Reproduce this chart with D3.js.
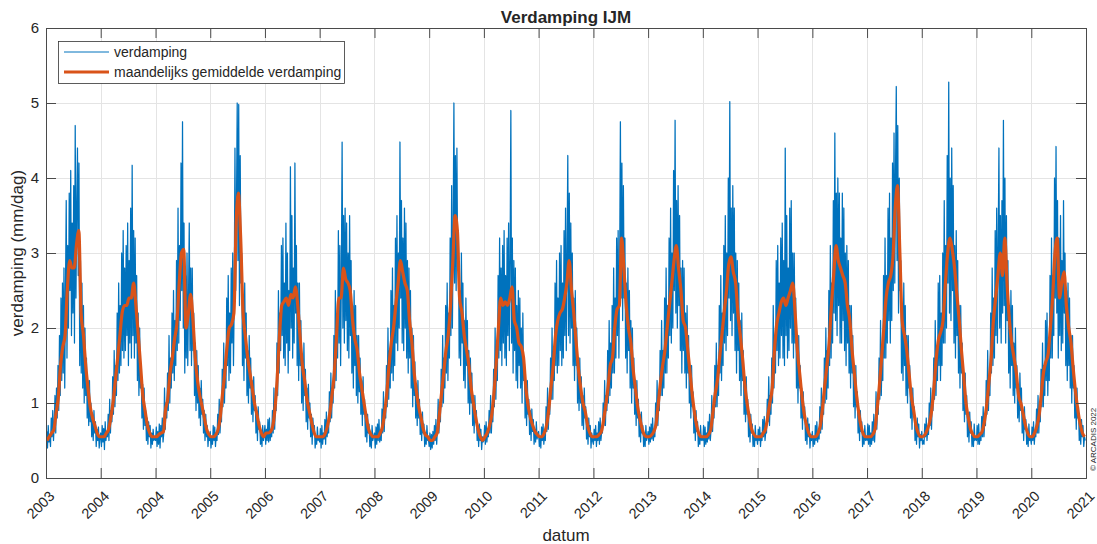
<!DOCTYPE html>
<html><head><meta charset="utf-8">
<script src="https://cdn.jsdelivr.net/npm/d3@7"></script>
<style>
body{margin:0;background:#fff}
text{font-family:"Liberation Sans",Arial,Helvetica,sans-serif;fill:#262626}
</style>
</head><body>
<svg id="chart" width="1097" height="544"></svg>
<script>
// ---------- DATA ----------
const years = [2003,2004,2005,2006,2007,2008,2009,2010,2011,2012,2013,2014,2015,2016,2017,2018,2019,2020,2021];
const xTickLabels = ["2003","2004","2004","2005","2006","2007","2008","2009","2010","2011","2012","2013","2014","2015","2016","2017","2018","2019","2020","2021"];
const yTickValues = [0,1,2,3,4,5,6];

// daily evaporation (mm/dag), one value every 5 days, per year
const verd2003 = [0.45,0.62,0.4,0.7,0.48,0.58,0.42,0.8,0.55,0.9,0.5,0.72,1.1,0.6,1.2,0.8,1.5,0.9,1.9,1.1,2.4,1.3,2.6,1.4,2.8,1.2,2.5,3.7,1.6,3.1,2.0,3.8,2.5,4.1,1.9,3.4,2.2,3.9,1.8,4.7,2.4,3.6,4.4,2.7,4.2,1.5,2.9,1.4,2.6,1.2,2.3,1.0,2.0,1.1,1.6,0.8,1.3,0.7,1.3,0.75,1.0,0.55,0.85,0.5,0.9,0.6,0.75,0.42,0.65,0.5,0.68,0.4,0.55];
const verd2004 = [0.6,0.42,0.7,0.48,0.66,0.38,0.75,0.5,0.62,0.55,0.85,0.5,1.05,0.6,0.9,0.75,1.35,0.85,1.7,0.95,1.5,1.1,2.2,1.3,2.6,1.4,2.3,1.5,3.0,1.7,3.3,1.6,2.8,1.7,3.1,1.9,3.4,1.5,2.9,1.8,3.6,1.6,4.17,1.9,3.3,1.6,3.2,1.8,2.7,1.3,2.2,1.1,2.0,1.2,1.5,0.8,1.25,0.65,1.2,0.7,0.9,0.5,0.8,0.45,0.75,0.55,0.7,0.4,0.6,0.45,0.65,0.5,0.55];
const verd2005 = [0.5,0.68,0.42,0.62,0.45,0.72,0.4,0.7,0.55,0.8,0.48,0.6,1.2,0.65,1.0,0.8,1.4,0.9,1.9,1.0,1.6,1.2,2.2,1.4,2.5,1.3,2.1,1.5,2.9,1.7,3.6,1.8,3.1,2.1,4.2,2.5,4.75,2.0,3.4,1.4,2.7,1.6,3.0,1.5,2.4,3.4,1.7,2.8,1.5,2.8,1.7,2.2,1.1,1.8,0.9,1.7,1.0,1.5,0.8,1.2,0.7,1.3,0.85,1.05,0.6,0.9,0.5,0.85,0.55,0.7,0.42,0.6,0.5];
const verd2006 = [0.62,0.4,0.55,0.45,0.7,0.5,0.68,0.42,0.6,0.5,0.85,0.58,1.05,0.6,0.8,0.75,1.45,0.95,1.8,1.0,1.5,1.2,2.4,1.5,2.7,1.3,2.2,1.4,2.8,1.8,3.0,1.5,2.4,4.4,2.5,3.6,5.0,2.9,4.98,2.3,4.3,2.6,3.0,1.5,2.2,1.3,2.6,1.6,2.2,1.1,1.7,1.0,1.9,1.2,1.6,0.85,1.3,0.75,1.35,0.9,1.1,0.6,0.9,0.5,0.95,0.65,0.75,0.45,0.6,0.42,0.7,0.5,0.58];
const verd2007 = [0.7,0.45,0.65,0.5,0.78,0.48,0.8,0.5,0.62,0.55,0.9,0.6,1.2,0.65,1.0,0.9,1.8,1.1,2.5,1.4,2.2,1.7,3.1,1.9,3.2,1.6,2.6,1.5,3.4,1.8,3.0,1.4,2.5,1.7,4.15,2.0,3.5,1.6,2.8,1.8,4.2,2.2,3.1,1.5,2.6,1.3,2.6,1.5,2.1,1.0,1.6,0.9,1.8,1.1,1.45,0.75,1.2,0.65,1.25,0.8,1.0,0.55,0.85,0.45,0.8,0.6,0.7,0.4,0.55,0.45,0.68,0.5,0.55];
const verd2008 = [0.48,0.66,0.4,0.7,0.45,0.6,0.52,0.78,0.45,0.88,0.55,0.68,0.6,1.15,0.75,1.4,0.8,1.2,1.0,1.9,1.2,2.5,1.3,2.1,1.6,3.3,1.8,3.1,1.5,2.7,4.48,2.0,3.5,1.8,3.6,2.1,3.4,1.7,3.0,1.6,3.5,1.9,2.9,1.4,2.3,1.2,2.5,1.5,2.3,1.1,1.9,1.0,1.9,1.15,1.6,0.85,1.3,0.7,1.35,0.85,1.05,0.55,0.85,0.48,0.85,0.6,0.72,0.42,0.6,0.4,0.7,0.5,0.55];
const verd2009 = [0.6,0.4,0.68,0.45,0.72,0.5,0.78,0.48,0.62,0.5,0.92,0.6,1.15,0.62,0.95,0.8,1.5,0.95,2.0,1.05,1.7,1.2,2.5,1.4,2.8,1.3,2.3,1.5,3.2,1.8,3.5,1.7,3.0,2.0,4.48,2.4,3.7,1.8,3.2,1.7,3.6,2.0,3.4,1.6,2.9,1.4,2.8,1.6,2.5,1.2,2.0,0.95,1.9,1.1,1.55,0.8,1.25,0.7,1.3,0.8,1.05,0.58,0.85,0.5,0.88,0.6,0.72,0.42,0.58,0.45,0.7,0.5,0.52];
const verd2010 = [0.42,0.6,0.38,0.58,0.4,0.62,0.45,0.7,0.5,0.78,0.45,0.65,1.05,0.6,0.9,0.75,1.45,0.95,1.9,1.0,1.6,1.2,2.3,1.4,2.6,1.3,2.2,1.6,3.2,1.9,3.9,2.0,3.3,5.0,2.6,4.3,2.5,4.4,2.8,3.3,1.6,2.5,1.5,3.0,1.8,2.6,1.3,2.1,1.2,2.4,1.5,2.1,1.0,1.7,0.85,1.6,1.0,1.4,0.7,1.1,0.6,1.1,0.75,0.9,0.5,0.7,0.42,0.72,0.5,0.65,0.38,0.55,0.48];
const verd2011 = [0.5,0.7,0.45,0.75,0.48,0.62,0.55,0.9,0.6,1.1,0.6,0.9,0.75,1.45,0.95,2.0,1.05,1.6,1.3,2.7,1.6,3.2,1.7,2.8,1.5,3.1,1.8,3.3,1.6,2.7,1.5,3.2,1.9,3.4,1.7,2.9,4.9,1.8,3.2,1.4,2.9,1.7,2.8,1.3,2.3,1.2,2.5,1.5,2.4,1.2,2.0,1.0,2.2,1.3,1.6,0.8,1.3,0.7,1.3,0.85,1.05,0.58,0.9,0.5,0.92,0.62,0.78,0.45,0.65,0.48,0.75,0.52,0.58];
const verd2012 = [0.62,0.42,0.55,0.4,0.68,0.5,0.72,0.45,0.6,0.5,0.95,0.62,1.2,0.65,0.95,0.85,1.6,1.05,2.0,1.05,1.7,1.3,2.6,1.5,2.9,1.4,2.4,1.5,3.0,1.7,3.1,1.5,2.6,1.6,3.3,1.9,3.6,1.7,3.0,4.3,1.9,3.8,1.8,3.4,2.0,3.0,1.5,2.4,1.3,2.5,1.5,2.0,1.0,1.6,0.9,1.6,1.0,1.35,0.7,1.1,0.65,1.2,0.8,0.95,0.52,0.72,0.45,0.8,0.55,0.7,0.4,0.6,0.5];
const verd2013 = [0.45,0.65,0.5,0.7,0.42,0.6,0.5,0.75,0.45,0.8,0.5,0.62,0.6,1.0,0.7,1.3,0.7,1.1,0.9,1.7,1.0,2.1,1.1,1.8,1.2,2.3,1.4,2.8,1.4,2.4,1.6,3.2,1.9,3.3,1.6,2.8,4.75,2.4,4.2,2.1,3.9,2.4,3.2,1.6,2.6,1.4,2.8,1.7,2.5,1.2,2.1,1.0,2.0,1.2,1.6,0.85,1.3,0.7,1.3,0.8,1.05,0.55,0.85,0.48,0.88,0.6,0.7,0.42,0.58,0.42,0.7,0.5,0.55];
const verd2014 = [0.62,0.45,0.68,0.48,0.72,0.52,0.8,0.5,0.65,0.55,1.0,0.7,1.3,0.7,1.05,0.9,1.7,1.1,2.1,1.1,1.7,1.2,2.4,1.4,2.8,1.4,2.3,1.6,3.2,1.9,3.6,1.8,3.0,2.0,4.1,2.5,4.77,2.2,3.7,2.0,3.9,2.3,3.5,1.7,2.8,1.4,2.9,1.7,2.8,1.4,2.2,1.2,2.3,1.4,1.9,1.0,1.5,0.8,1.5,0.95,1.15,0.6,0.9,0.5,0.9,0.62,0.75,0.42,0.6,0.45,0.7,0.5,0.55];
const verd2015 = [0.5,0.7,0.42,0.68,0.45,0.6,0.48,0.75,0.52,0.85,0.5,0.65,1.1,0.62,0.9,0.8,1.5,0.95,1.8,0.95,1.5,1.1,2.3,1.4,2.7,1.3,2.2,1.5,3.1,1.8,3.5,1.7,3.0,1.9,4.0,2.4,5.02,2.1,3.6,1.9,3.9,2.2,3.6,1.7,3.0,1.4,2.9,1.7,2.6,1.3,2.1,1.1,2.2,1.3,1.7,0.85,1.35,0.75,1.35,0.85,1.05,0.55,0.85,0.48,0.85,0.6,0.72,0.42,0.58,0.42,0.7,0.5,0.55];
const verd2016 = [0.45,0.65,0.5,0.68,0.42,0.6,0.5,0.78,0.55,0.82,0.5,0.62,0.6,1.05,0.75,1.35,0.7,1.1,0.85,1.6,1.0,2.3,1.2,1.9,1.4,2.9,1.7,3.1,1.5,2.6,1.6,3.2,1.9,3.4,1.6,2.9,1.5,4.4,1.9,3.5,1.6,2.8,1.7,3.6,2.0,3.7,1.8,3.0,1.6,3.0,1.8,2.4,1.2,1.9,1.0,1.9,1.2,1.5,0.8,1.2,0.65,1.15,0.8,0.95,0.5,0.72,0.45,0.8,0.55,0.72,0.4,0.58,0.5];
const verd2017 = [0.62,0.42,0.55,0.45,0.7,0.5,0.75,0.48,0.62,0.52,0.95,0.6,1.2,0.65,0.95,0.85,1.6,1.0,2.0,1.05,1.7,1.2,2.5,1.5,3.1,1.6,2.6,1.8,3.7,2.2,4.6,2.1,3.8,1.9,4.0,2.3,3.8,1.8,3.2,1.8,3.8,2.1,3.6,1.7,3.0,1.5,3.1,1.8,2.9,1.4,2.3,1.2,2.3,1.4,1.9,0.95,1.5,0.8,1.5,0.95,1.15,0.6,0.9,0.5,0.9,0.62,0.75,0.42,0.6,0.45,0.7,0.5,0.55];
const verd2018 = [0.5,0.72,0.45,0.7,0.42,0.6,0.45,0.75,0.5,0.85,0.48,0.68,1.15,0.65,0.95,0.85,1.6,1.05,2.1,1.1,1.7,1.3,2.7,1.6,3.2,1.6,2.7,1.8,3.6,2.1,3.8,1.8,3.2,2.1,4.2,2.5,4.6,2.6,4.1,5.22,2.9,4.7,2.2,4.0,2.5,2.9,1.4,2.2,1.3,2.6,1.5,2.3,1.1,1.9,1.0,1.9,1.2,1.5,0.8,1.2,0.65,1.2,0.85,0.95,0.5,0.72,0.45,0.8,0.55,0.72,0.4,0.58,0.5];
const verd2019 = [0.62,0.45,0.5,0.45,0.72,0.55,0.8,0.5,0.68,0.58,1.0,0.7,1.2,0.65,1.0,0.9,1.6,1.05,2.1,1.1,1.7,1.3,2.6,1.5,2.7,1.3,2.2,1.5,3.0,1.8,3.7,1.8,3.1,2.0,4.3,2.6,5.28,2.2,4.0,2.1,4.4,2.5,3.9,1.8,3.1,1.6,3.3,1.9,2.9,1.4,2.3,1.2,2.3,1.4,1.8,0.9,1.4,0.75,1.4,0.85,1.1,0.55,0.85,0.48,0.88,0.6,0.75,0.42,0.6,0.42,0.72,0.5,0.55];
const verd2020 = [0.5,0.7,0.45,0.72,0.45,0.6,0.5,0.82,0.55,0.95,0.55,0.75,0.7,1.3,0.85,1.7,0.9,1.35,1.1,2.2,1.4,2.8,1.5,2.4,1.6,3.3,1.9,3.6,1.8,3.1,4.4,2.0,3.5,1.8,3.7,2.2,4.77,2.3,4.0,1.8,3.5,2.1,2.9,1.4,2.3,1.2,2.5,1.5,2.3,1.1,1.8,1.0,2.0,1.2,1.5,0.8,1.2,0.75,1.4,0.9,1.2,0.6,0.9,0.5,0.95,0.65,0.78,0.45,0.6,0.42,0.72,0.5,0.55];
const verd2021 = [0.45,0.68,0.5,0.75,0.45,0.62,0.55,0.92,0.6,1.1,0.6,0.9,0.75,1.45,0.95,1.8,0.95,1.5,1.1,2.1,1.3,2.2,1.1,1.8,1.3,2.7,1.6,3.2,1.6,2.7,1.9,4.0,2.4,4.42,2.2,3.7,1.6,3.2,1.9,3.5,1.7,2.9,1.8,3.7,2.2,3.0,1.5,2.5,1.3,2.6,1.5,2.4,1.2,1.9,1.0,1.9,1.2,1.5,0.8,1.2,0.65,1.2,0.8,0.95,0.5,0.72,0.45,0.78,0.55,0.7,0.42,0.55,0.5];

// monthly averaged evaporation (mm/dag), two values per month, per year
const gem2003 = [0.5,0.55,0.6,0.65,0.85,1.05,1.5,1.75,1.9,2.5,2.9,2.8,2.8,3.1,3.3,2.2,1.9,1.5,1.2,0.95,0.8,0.7,0.6,0.55];
const gem2004 = [0.55,0.55,0.6,0.65,0.8,1.0,1.3,1.6,1.9,2.2,2.3,2.3,2.4,2.4,2.6,2.3,1.9,1.5,1.1,0.9,0.7,0.6,0.55,0.55];
const gem2005 = [0.55,0.58,0.6,0.62,0.9,1.05,1.4,1.6,1.85,2.05,2.6,3.0,3.05,2.0,2.2,2.45,2.1,1.6,1.3,1.1,0.95,0.8,0.65,0.58];
const gem2006 = [0.55,0.55,0.58,0.65,0.8,1.1,1.4,1.75,2.0,2.05,2.2,3.4,3.8,3.2,2.2,1.9,1.6,1.4,1.2,1.0,0.85,0.7,0.6,0.55];
const gem2007 = [0.6,0.6,0.62,0.7,0.9,1.3,1.9,2.3,2.35,2.4,2.3,2.45,2.4,2.55,2.3,1.9,1.5,1.3,1.05,0.9,0.75,0.62,0.55,0.55];
const gem2008 = [0.55,0.55,0.6,0.7,0.85,1.1,1.4,1.9,2.4,2.4,2.8,2.65,2.6,2.5,2.1,1.85,1.7,1.4,1.2,1.0,0.8,0.65,0.58,0.55];
const gem2009 = [0.55,0.55,0.6,0.68,0.85,1.1,1.5,1.8,2.0,2.3,2.6,2.9,2.75,2.6,2.5,2.1,1.8,1.4,1.15,0.95,0.8,0.65,0.57,0.55];
const gem2010 = [0.5,0.5,0.55,0.6,0.8,1.1,1.4,1.7,1.9,2.3,2.9,3.5,3.3,2.4,2.2,1.9,1.7,1.5,1.2,1.0,0.8,0.65,0.55,0.5];
const gem2011 = [0.55,0.6,0.7,0.85,1.1,1.5,2.0,2.4,2.3,2.35,2.3,2.4,2.55,2.1,2.0,1.8,1.75,1.6,1.2,0.97,0.8,0.7,0.62,0.58];
const gem2012 = [0.55,0.55,0.6,0.7,0.9,1.2,1.5,1.9,2.1,2.2,2.25,2.4,2.6,2.9,2.5,2.2,1.8,1.45,1.2,1.0,0.88,0.7,0.6,0.55];
const gem2013 = [0.55,0.55,0.58,0.62,0.75,0.95,1.2,1.5,1.6,2.0,2.25,2.3,3.2,2.8,2.3,2.0,1.8,1.45,1.2,0.95,0.78,0.65,0.57,0.55];
const gem2014 = [0.55,0.57,0.62,0.72,0.95,1.25,1.5,1.7,2.0,2.3,2.6,2.9,3.1,2.8,2.5,2.1,2.0,1.7,1.4,1.1,0.85,0.68,0.58,0.55];
const gem2015 = [0.55,0.55,0.58,0.65,0.85,1.1,1.3,1.6,1.9,2.2,2.5,2.85,2.95,2.75,2.6,2.2,1.9,1.6,1.25,1.0,0.8,0.65,0.58,0.55];
const gem2016 = [0.55,0.55,0.6,0.65,0.8,1.0,1.2,1.7,2.05,2.2,2.35,2.4,2.3,2.4,2.5,2.6,2.2,1.7,1.4,1.1,0.85,0.7,0.6,0.55];
const gem2017 = [0.55,0.55,0.6,0.7,0.9,1.2,1.5,1.8,2.3,2.7,3.1,2.9,2.8,2.7,2.6,2.3,2.1,1.7,1.4,1.1,0.85,0.68,0.58,0.55];
const gem2018 = [0.55,0.55,0.58,0.65,0.9,1.2,1.6,2.0,2.4,2.6,2.7,2.95,3.6,3.9,3.0,2.1,1.9,1.7,1.4,1.1,0.9,0.7,0.6,0.55];
const gem2019 = [0.55,0.58,0.65,0.75,0.9,1.2,1.6,1.85,1.95,2.1,2.6,3.0,3.2,3.05,2.8,2.45,2.1,1.7,1.35,1.0,0.8,0.65,0.58,0.55];
const gem2020 = [0.55,0.58,0.62,0.75,0.95,1.25,1.6,2.1,2.4,2.7,3.0,2.7,3.2,2.6,2.1,1.8,1.6,1.4,1.1,1.0,0.85,0.7,0.6,0.55];
const gem2021 = [0.55,0.6,0.7,0.85,1.1,1.4,1.55,1.65,2.0,2.4,3.0,3.2,2.4,2.6,2.75,2.3,2.0,1.8,1.45,1.15,0.9,0.72,0.6,0.55];

const dailySeries = [verd2003,verd2004,verd2005,verd2006,verd2007,verd2008,verd2009,verd2010,verd2011,verd2012,verd2013,verd2014,verd2015,verd2016,verd2017,verd2018,verd2019,verd2020,verd2021];
const monthlySeries = [gem2003,gem2004,gem2005,gem2006,gem2007,gem2008,gem2009,gem2010,gem2011,gem2012,gem2013,gem2014,gem2015,gem2016,gem2017,gem2018,gem2019,gem2020,gem2021];

// ---------- BUILD ----------
const daily = [];
years.forEach((yr, k) => dailySeries[k].forEach((v, j) => daily.push({t: new Date(yr, 0, 1 + j * 5), v})));
const monthly = [];
years.forEach((yr, k) => monthlySeries[k].forEach((v, i) => monthly.push({t: new Date(yr, Math.floor(i / 2), i % 2 ? 23 : 8), v})));

const W = 1097, H = 544;
const m = {left: 46, top: 28, right: 1086, bottom: 478};
const svg = d3.select("#chart");
svg.append("rect").attr("width", W).attr("height", H).attr("fill", "#fff");

const x = d3.scaleTime().domain([new Date(years[0], 0, 1), new Date(years[years.length - 1] + 1, 0, 1)]).range([m.left, m.right]);
const y = d3.scaleLinear().domain([0, 6]).range([m.bottom, m.top]);
const xTicks = d3.range(years[0], years[years.length - 1] + 2).map(yr => new Date(yr, 0, 1));

// grid
const grid = svg.append("g").attr("stroke", "#e4e4e4").attr("stroke-width", 1);
grid.selectAll("line.gx").data(xTicks).join("line")
  .attr("x1", d => Math.round(x(d)) + 0.5).attr("x2", d => Math.round(x(d)) + 0.5)
  .attr("y1", m.top).attr("y2", m.bottom);
grid.selectAll("line.gy").data(yTickValues).join("line")
  .attr("x1", m.left).attr("x2", m.right)
  .attr("y1", d => Math.round(y(d)) + 0.5).attr("y2", d => Math.round(y(d)) + 0.5);

// clip
svg.append("clipPath").attr("id", "clip").append("rect")
  .attr("x", m.left).attr("y", m.top).attr("width", m.right - m.left).attr("height", m.bottom - m.top);

const line = d3.line().x(d => x(d.t)).y(d => y(d.v));
const plot = svg.append("g").attr("clip-path", "url(#clip)");
plot.append("path").datum(daily).attr("d", line)
  .attr("fill", "none").attr("stroke", "#0072BD").attr("stroke-width", 1.25).attr("stroke-linejoin", "round");
plot.append("path").datum(monthly).attr("d", d3.line().x(d => x(d.t)).y(d => y(d.v)).curve(d3.curveMonotoneX))
  .attr("fill", "none").attr("stroke", "#D95319").attr("stroke-width", 3.2).attr("stroke-linejoin", "round");

// axes
const axisColor = "#4a4a4a";
const xAxis = svg.append("g").attr("transform", `translate(0,${m.bottom})`)
  .call(d3.axisBottom(x).tickValues(xTicks).tickSize(-10).tickFormat((d, i) => xTickLabels[i]));
xAxis.selectAll("text").attr("y", 0).attr("dy", 0).attr("x", 0)
  .attr("transform", "translate(9,19) rotate(-45)").style("text-anchor", "end")
  .style("font-size", "14.5px").attr("fill", "#262626");
svg.append("g").attr("transform", `translate(0,${m.top})`)
  .call(d3.axisTop(x).tickValues(xTicks).tickSize(-10).tickFormat(""));
const yAxis = svg.append("g").attr("transform", `translate(${m.left},0)`)
  .call(d3.axisLeft(y).tickValues(yTickValues).tickSize(-10).tickPadding(7).tickFormat(d3.format("d")));
yAxis.selectAll("text").style("font-size", "15px").attr("fill", "#262626");
svg.append("g").attr("transform", `translate(${m.right},0)`)
  .call(d3.axisRight(y).tickValues(yTickValues).tickSize(-10).tickFormat(""));
svg.selectAll(".domain").attr("stroke", axisColor);
svg.selectAll(".tick line").attr("stroke", axisColor);

// labels
svg.append("text").attr("x", 566).attr("y", 23).attr("text-anchor", "middle")
  .style("font-size", "17px").style("font-weight", "bold").attr("fill", "#000").text("Verdamping IJM");
svg.append("text").attr("x", 566).attr("y", 541).attr("text-anchor", "middle")
  .style("font-size", "17px").text("datum");
svg.append("text").attr("transform", `translate(23,253) rotate(-90)`).attr("text-anchor", "middle")
  .style("font-size", "17px").text("verdamping (mm/dag)");
svg.append("text").attr("transform", `translate(1096,471) rotate(-90)`).attr("text-anchor", "start")
  .style("font-size", "8px").attr("fill", "#555").text("© ARCADIS 2022");

// legend
const lg = svg.append("g");
lg.append("rect").attr("x", 58.5).attr("y", 41.5).attr("width", 286).attr("height", 42)
  .attr("fill", "#fff").attr("stroke", "#333").attr("stroke-width", 0.8);
const legendItems = [
  {label: "verdamping", color: "#0072BD", w: 1},
  {label: "maandelijks gemiddelde verdamping", color: "#D95319", w: 3.2}
];
legendItems.forEach((it, i) => {
  const cy = 52 + i * 20;
  lg.append("line").attr("x1", 64).attr("x2", 109).attr("y1", cy).attr("y2", cy)
    .attr("stroke", it.color).attr("stroke-width", it.w);
  lg.append("text").attr("x", 114).attr("y", cy).attr("dy", "0.35em")
    .style("font-size", "14px").attr("fill", "#000").text(it.label);
});
</script>
</body></html>
